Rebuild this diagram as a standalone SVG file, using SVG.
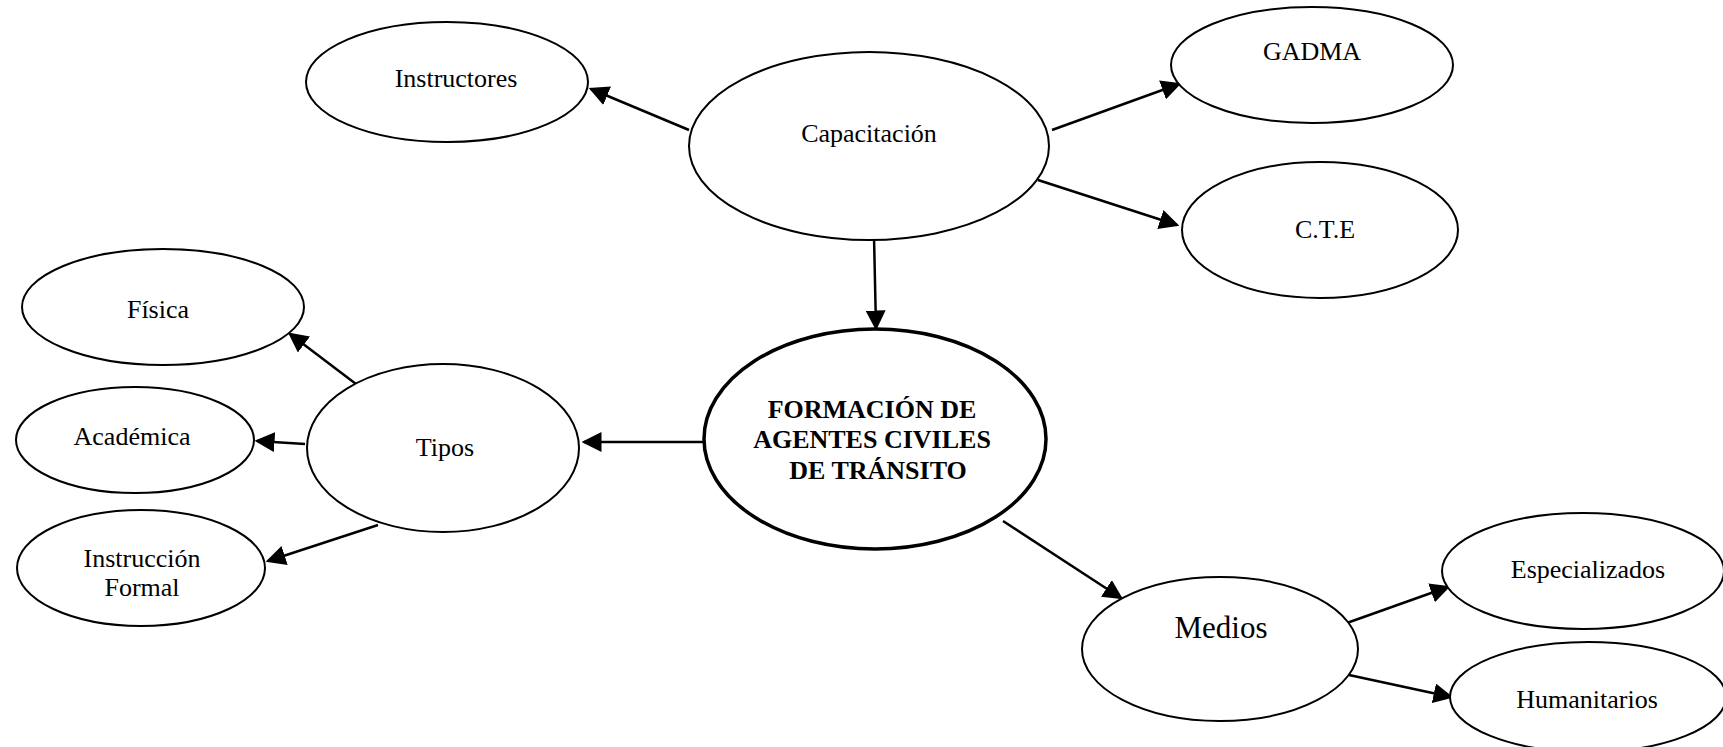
<svg xmlns="http://www.w3.org/2000/svg" width="1723" height="747" viewBox="0 0 1723 747">
<style>
.n{fill:#fff;stroke:#000;stroke-width:2}
.c{fill:#fff;stroke:#000;stroke-width:3.5}
.t{font-family:"Liberation Serif","Times New Roman",serif;font-size:26px;text-anchor:middle;fill:#000}
.b{font-weight:bold}
.e{stroke:#000;stroke-width:2.5;fill:none;marker-end:url(#ah)}
</style>
<defs>
<marker id="ah" markerWidth="8" markerHeight="8" refX="7" refY="4" orient="auto" markerUnits="strokeWidth">
<path d="M0,0 L8,4 L0,8 Z" fill="#000"/>
</marker>
</defs>
<rect width="1723" height="747" fill="#fff"/>
<g id="connectors">
<line class="e" x1="689" y1="130" x2="591" y2="89"/>
<line class="e" x1="1052" y1="130" x2="1179" y2="84"/>
<line class="e" x1="1038" y1="180" x2="1177" y2="225"/>
<line class="e" x1="874" y1="236" x2="876" y2="328"/>
<line class="e" x1="703" y1="442" x2="584" y2="442"/>
<line class="e" x1="356" y1="384" x2="290" y2="334"/>
<line class="e" x1="305" y1="444" x2="257" y2="441"/>
<line class="e" x1="378" y1="525" x2="268" y2="561"/>
<line class="e" x1="1003" y1="521" x2="1121" y2="598"/>
<line class="e" x1="1344" y1="624" x2="1448" y2="587"/>
<line class="e" x1="1349" y1="675" x2="1451" y2="697"/>
</g>
<g id="node-instructores"><ellipse class="n" cx="447" cy="82" rx="141" ry="60"/><text class="t" x="456" y="87">Instructores</text></g>
<g id="node-capacitacion"><ellipse class="n" cx="869" cy="146" rx="180" ry="94"/><text class="t" x="869" y="142">Capacitación</text></g>
<g id="node-gadma"><ellipse class="n" cx="1312" cy="65" rx="141" ry="58"/><text class="t" x="1312" y="60">GADMA</text></g>
<g id="node-cte"><ellipse class="n" cx="1320" cy="230" rx="138" ry="68"/><text class="t" x="1325" y="238">C.T.E</text></g>
<g id="node-fisica"><ellipse class="n" cx="163" cy="307" rx="141" ry="58"/><text class="t" x="158" y="318">Física</text></g>
<g id="node-academica"><ellipse class="n" cx="135" cy="440" rx="119" ry="53"/><text class="t" x="132" y="445">Académica</text></g>
<g id="node-instruccion"><ellipse class="n" cx="141" cy="568" rx="124" ry="58"/><text class="t" x="142" y="567">Instrucción</text><text class="t" x="142" y="596">Formal</text></g>
<g id="node-tipos"><ellipse class="n" cx="443" cy="448" rx="136" ry="84"/><text class="t" x="445" y="456">Tipos</text></g>
<g id="node-central"><ellipse class="c" cx="875" cy="439" rx="171" ry="110"/><text class="t b" x="872" y="418">FORMACIÓN DE</text><text class="t b" x="872" y="448">AGENTES CIVILES</text><text class="t b" x="878" y="479">DE TRÁNSITO</text></g>
<g id="node-medios"><ellipse class="n" cx="1220" cy="649" rx="138" ry="72"/><text class="t" x="1221" y="638" style="font-size:31px">Medios</text></g>
<g id="node-especializados"><ellipse class="n" cx="1583" cy="571" rx="141" ry="58"/><text class="t" x="1588" y="578">Especializados</text></g>
<g id="node-humanitarios"><ellipse class="n" cx="1588" cy="697" rx="138" ry="55"/><text class="t" x="1587" y="708">Humanitarios</text></g>
</svg>
